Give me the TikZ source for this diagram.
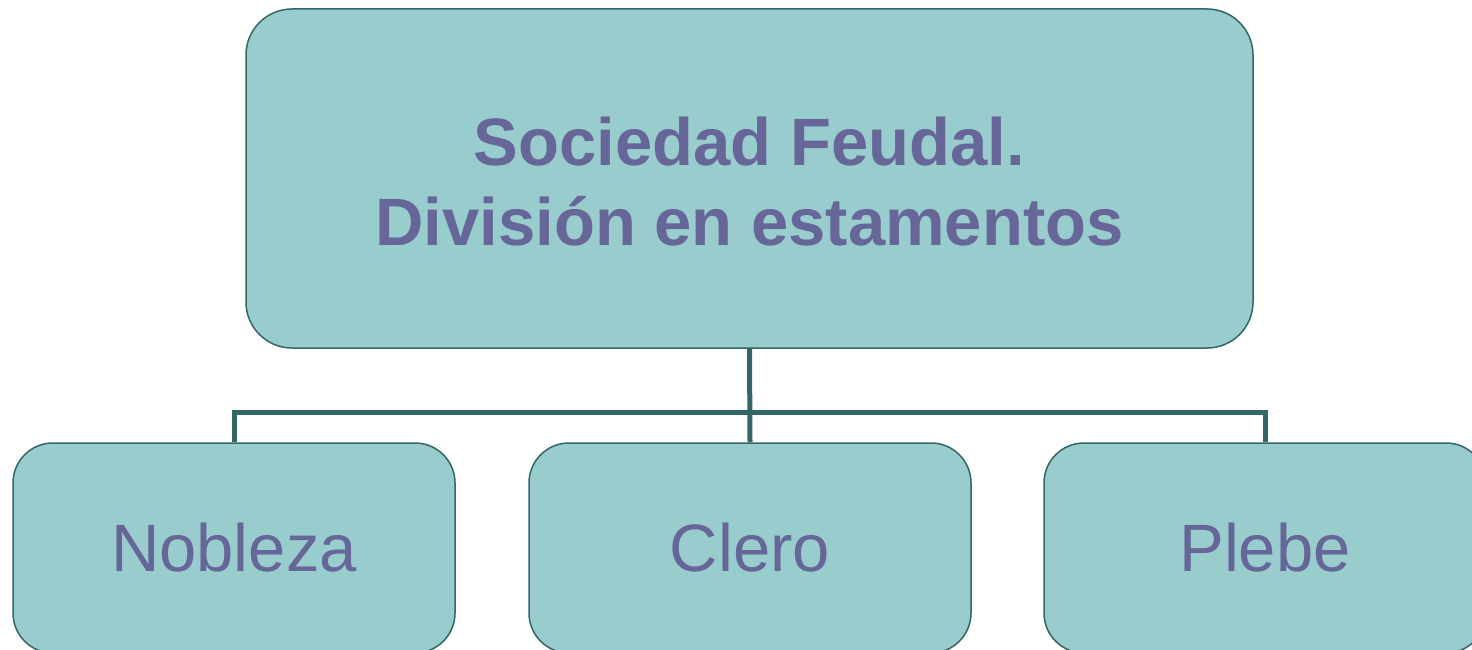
\documentclass[tikz,border=0pt]{standalone}
\usepackage{fontspec}
\setmainfont{Liberation Sans}
\definecolor{boxfill}{HTML}{99CCCC}
\definecolor{boxline}{HTML}{336666}
\definecolor{boxtext}{HTML}{666699}
\tikzset{
	estamento/.style={draw=boxline,line width=1.5pt,fill=boxfill,rounded corners=40pt,
		minimum width=442pt,minimum height=210pt,text=boxtext,font=\fontsize{67}{80}\selectfont},
	titulo/.style={estamento,rounded corners=46pt,minimum width=1007pt,minimum height=339pt,
		align=center,font=\fontsize{67}{80}\selectfont\bfseries},
	enlace/.style={draw=boxline,line width=5pt}
}
\begin{document}
\begin{tikzpicture}[x=1pt,y=-1pt]
		%Frame
			\path[use as bounding box,clip] (0,0) rectangle (1472,650);
		%Boxes
			\node[titulo] (sociedad) at (749.5,178.5) {};
			\node[text=boxtext,align=center,font=\fontsize{67}{80}\selectfont\bfseries] (lema) at (749.5,181.5) {Sociedad Feudal.\\División en estamentos};
			\node[estamento] (nobleza) at (234,548) {Nobleza};
			\node[estamento] (clero) at (750,548) {Clero};
			\node[estamento] (plebe) at (1265,548) {Plebe};
		%Links
			\coordinate (bar) at (749,412);
			\draw[enlace] (nobleza.north) |- (bar) -| (plebe.north);
			\draw[enlace] (sociedad.south) -- (clero.north);
	\end{tikzpicture}
\end{document}
